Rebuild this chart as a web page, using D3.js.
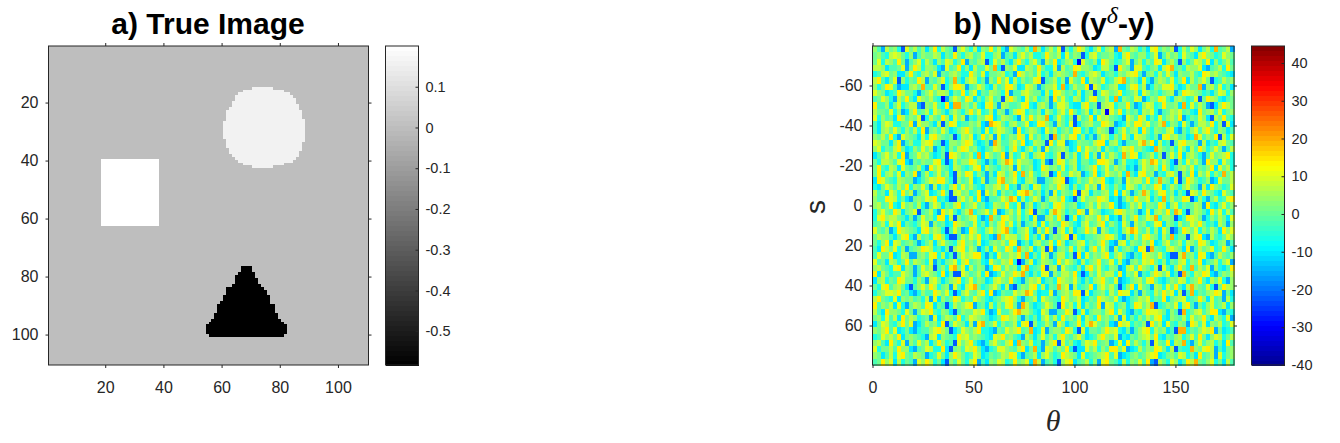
<!DOCTYPE html>
<meta charset="utf-8">
<style>
body { margin: 0; background: #fff; }
text { font-family: "Liberation Sans", Arial, sans-serif; fill: #262626; }
.title { font-size: 30px; font-weight: bold; fill: #000; text-anchor: middle; }
.ax text { font-size: 16px; }
.cb text { font-size: 14.5px; }
.ax path, .cb path { display: none; }
.ax line, .cb line { stroke: #262626; }
</style>
<body>
<script src="https://cdn.jsdelivr.net/npm/d3@7"></script>
<script>
var width = 1340, height = 443;

// a) true image: background value plus [row, first col, last col] runs
var imageSize = 110;
var backgroundValue = 0;
var squareValue = 0.2, circleValue = 0.16, triangleValue = -0.583;
var squareRuns = d3.range(40, 63).map(function(r) { return [r, 19, 38]; });
var circleRuns = [
  [15,71,77],[16,68,81],[17,66,83],[18,65,84],[19,65,85],[20,64,85],[21,64,86],
  [22,63,86],[23,62,87],[24,62,87],[25,62,87],[26,62,88],[27,61,88],[28,61,88],
  [29,61,88],[30,61,88],[31,61,88],[32,61,88],[33,62,88],[34,62,87],[35,62,87],
  [36,63,87],[37,63,86],[38,64,86],[39,65,85],[40,66,84],[41,68,81],[42,71,77]];
var triangleRuns = [
  [77,67,70],[78,67,70],[79,66,71],[80,65,71],[81,65,72],[82,65,72],[83,64,73],
  [84,62,74],[85,62,75],[86,62,75],[87,61,76],[88,61,76],[89,60,76],[90,59,78],
  [91,59,78],[92,59,78],[93,58,79],[94,58,79],[95,57,80],[96,56,81],[97,55,82],
  [98,55,82],[99,55,82],[100,56,81]];
var imageTicks = [20, 40, 60, 80, 100];
var grayTicks = [-0.5, -0.4, -0.3, -0.2, -0.1, 0, 0.1];
var grayDomain = [-0.583, 0.2];

// b) noise: one letter per cell. Typed by hand to match the overall colour mix,
// NOT measured cell by cell, and on a coarser grid than the original
var noiseLevels = {a:-30,b:-22,c:-15,d:-10,e:-6,f:-2,g:1,h:4,i:7,j:10,k:14,l:19,m:26};
var noiseRows = [
"hfcighebjgifhdgkeigfbhjgeidhgkfiecjhgfielhdgifjbgehkifdgjehiclgfihegdjkfhgibeifjhdgielfgic",
"ghfeijigehcfhggihdgfkgehifgjeehicfgdhjgieefkhgidjfhgbeijfgghedikgfhhegjcfighejgfdikhgefjhgi",
"gjeihfkgcfhjeigdhfjiegkcgfhibejgifdhkgehjfcigkdfhieajgfhdkigefhjcgiehfkjdgifbhegjifkdhegif",
"iihdffgjcgkiehhgdcjfgkehdiffjglebhgjddihfkgeejcifgkjhhgdeiifbkhgcjjfeghdiklfgeihhjdcfgiekg",
"efijghddgkfehigjcgfhigeekhfjdgghiefckighfjegdhihgflfegijhdfgehgijkfcgheifjgdhggifekjhigfed",
"ikfdgjbhegfkicgfhjeglfdhjiegchfkgjdiehfgjkbfgiehcjgfkdihgjefiklfhgdjecgihfjegkdifhjgbefigh",
"hegkjfcddhiglffjgbehkkicfgjhedifgkkhdejigcfhhjeldfiggkbjhefhiddgjkficehgjjkfdeigglchifjegd",
"jhgdefkiggecfhjgiihdgfkehjdgfihgekcffijhggdiekjhfgeidghbfjighkefgidjhfgeghicfkjihgefdgjieh",
"fgjhecigkfdjhgifeacgjhfkidgehjfgbikhfdjgiefhckgjfeihdgjkfgieldhgfjicehgkjfdhigefjbgkihedfg",
"kffhdgjegiicbhgjfekdllghfiedjkgcihffgjkedhigcfjjheddikfgbhijeggkfcdhjiefkgghdlejfigcbdhkig",
"iggfjehcdhkfgiejhfdgigehkgjefidhgcfikjegfhdigehjfkgegidhfiajgkehfgdihjecfgihjfgedkghifjegh",
"jehfgdkifhgjbeigfkhdjgicfehgjkdfihgecjfkgihldfjgehbifgkdjhigfecjhfkidgejfhigkcegfjhdbigkfe",
"fdhjieeggkcjhhfdibgkjeffhgidclkjgehifgjdekkhfcigejbdghiffkjhcdeigkkhjfgilehgdjfcfiigkehbjd",
"fdhigjgehfiekcghfjgdegikhfgdjehjigfckegihfdjgieghfkjegdfihgbegjfhidkgehgfijdcgehjfikgehgdf",
"hgifkecjhgfdiejkhgfgbeihjdfkgicjefhgkidjfhegblfigjkehdfcgjiehfkgdjihfegcjkhifgdeljfhgkbiej",
"jiggdhkcfheeijkgfbdhhgikjfdegcliffhjgkdeihgbkfjjcdehggfikkdhiecfggjlhkdiefbgjkhhgcidfeijgf",
"hjegfikgdehfjgicegdhfikjghedfgjigehkfdgiehcjfghigdekfjhgidhfegjikghfedligfhejgdifkhegjgcfi",
"dfhjgiekcfgjhifdegbkjhfgieldjhfgkciefjgdhikfegjbhfidgkehcjfigelhkjdfgiehbgjfkdhigecfjghike",
"geiihfjkdcgfhggjkebdifhhkjgecfdgilkfjhhgdeicbgkjfhidggefkkjhcfieedgjhlkfigdbhejgifckhhdjge",
"gkfeihdjgfgieckhjgfdihfegjkdigfehgicjfghdekighfjegidfghkegjfighdecfjhgiekgdfhigjegfhkdjgie",
"gkehifjdhgkcfiegjfhdbigkjehfcgdjifhkelgjfehibdkgfjhicegkdfjhgielfdjkghcfeijgbhfkdigjehflgi",
"dkjgfeihggcdfhjikkgebhfgjdeicffklghjedhigccfgijkbdehfgjhikedfgcjhiifkeglhgdjbfkigefhcdjggi",
"edgjhfigkehgjfcidgehkfjgifedhgijgkefchgdjiefhgkigdhefjgickgehfdjigehfgkjdfigehjgfcidkhgefj",
"ifgdjhekgicfhjdegkfbijghefkcjgidhfgejklifhdgcjehgfkbjidgfhiekdjgcfhliegjkfhdgebjifkhgedjgf",
"hffkjiegdcghgjikefdbbhjgiekdcffgjhlkdiegjhcfiigkedbfjghhkjidecfigkhhjdgelfifgkjbdhecgiefjk",
"hifgkedjghfiecgjhdgfikeghjfgdeihgkfejcgidfhgejkifghdegifjghkecdfigjehgfkidhjegfgihckedgjfh",
"ehjgfkidghjbfgieckhjfdgileghjfkcdgifjehkbgfdiljhegfkicjhgdefjkighfcejdhigkfljebgihfdkgjeif",
"ejkhiigfdgcfjghekkdibhfgijecdlgfkjhfiegdjcchifkgbejdfihgkgjdecifhkfgjilehhgbdfkjigcehfigdj",
"fgiejhkdgfegjichfgdekihgfjegdhfikgjehcfgidjehgfkigedhjfgikehfdjgcighefjkdhgeifgjhkgefdigch",
"jgfhcekihgfdjkgihebfjgcdkifehjgiklfdghjecifkgbhjeidfgkhjcigefdhjlkgfiehdjgbcfkigjehfigdkhj",
"gihhfdgjkecifgejkhdbbfigjhkefdclgjiifhkegdjcfhgikbjedffghikjgdcheifjkhgdifleggbhjkdcifegjh",
"gehkdjifghfcegidhjgfeikghfjdeghgifkjcegdhifgjekhdfgijegfhkgdcijehgfigkdehjfgieihfkjgdeghcf",
"fdkigjehcfghkjiefdgbhjkfigcehdjgfkielhgjdfibkcghfjeigdhkfjgcieghfdkjblgfeijhgdkcfighjefkgd",
"fjggkdeihccghfjkeidfbgjhikkecfdjggihkfldgejhcfiiegbkdjfhgikehjgdcfekihgjfdbbilghekjdcfigfh",
"jfgdihegkfihgejcfdghjeikfghedjgfihkeacgjdfihgekgjhfdieghkfgjeidcghfjikgehdgfijehgkdfgiehjc",
"higfejkdhgcfjgibfheklgjdifhgcekjfighdjlefgkbhicjgfehdikgjfehgcdijfkhgeibjfdhkgelfigjchedfk",
"kdigeffjhgcfijhgekdgbbjhfgiekcdfjghkilfdgejjchfiigkebdhfjgiiekdhgjcfehkigjdfblgeihkjdcfhgi",
"dhiegfkjggehfcijgdfhikegjfhgdeijhgkfecgihjdfgekihgjfdgehikgfjcdeghifjkgedfhgjieghkfdigjech",
"gejkfhigdbfhjgkieghcjfdiklgefhjgdicbfhgjkeidgflhjciefgkdhjgifbehkdjgfcihejgkfdilhgfjebgkih",
"eghjjikfgdcehffkigjebdhjgfikekcdgffjhilkgdeejcfhigkkbjdfgheifkjjdgchfeigkhjdibflegfhikjcgd",
"ikgfejdhghfgeicjdhfgkiegfjhgedfgijkhecfgidjhgfekighjdegfkihgjecdfgihjegfkdghijefgkhdjfgcie",
"kfhgidjecgihfkjdgfbeighjkcfgdiehfjkgclifdegjhfbkgiejdhfgkcjieghdfkjgilbefhgjdikfcgehjfgidh",
"ifdkhhgejgcgjikfehgdbfhggjikecdjffhkliigedjhccfgkibejdghhfikejgdcfehkjjigdhfblegijfhkkdcfe",
"ghejfidkgihefgcjdgihfkegjihgfdegkjhifcgegdhjfiekghfjdigekghficjdgehfigjkedhgfiejghkfdigejc",
"dgjifehkgjcdfighekbfjhgdicklfgjehfgidjkbhefigcjhdfgkeiljgfhdckijegfhbkgidjfehgckifjdhgiefj",
"hgikfjdegdceffhjkigbdfjhgikeedcgfjhikfgldejcghhfkiebjdggfhkijedgcfhjkeighdfbllegfhjikcgdef",
"efjhigkdghgfecijdhgfekijghgfedjikghfecigdgjfheikgfhjgdefikhgjcedgfhijgkedgfhiegjfkgdhjiegi",
"hifdkgejchfjgidgkhefbjgikfdcehjgfikdlhgjefcgikbjfhedgjikfghcejdkfigehbjgfkdihlecgjfhiegdkf",
"jeggifkhhdcfgjieekdbghfjikgdcefjjhgfikdglecjifhgkebddjgiehfkkgjcdeifhgkjgdibfeelhgjkicfdgh",
"hgdfiejkgfihgcefjgdhkigefjhdegfgihkjecfgidhjgefkihgdjefghikfjcdeghfgijkdeghfjiegdkfgicjegh",
"fgkhjdiegfcjhkiegdbhfjgeikcfdhgjiefkghjdlicfgebhjkdfgiehcjkgfdiehgjfkcbigejhdfkilgfhjegdif"
];
var noiseXTicks = [0, 50, 100, 150];
var noiseYTicks = [-60, -40, -20, 0, 20, 40, 60];
var jetTicks = [-40, -30, -20, -10, 0, 10, 20, 30, 40];
var jetDomain = [-40, 44.5];
var hyphenInt = function(d) { return String(d); };

var svg = d3.select("body").append("svg")
    .attr("width", width)
    .attr("height", height);

function addAxes(g, x, y, xTicks, yTicks) {
  var r = x.range(), t = y.range();
  g.append("g").attr("class", "ax").attr("transform", "translate(0," + t[1] + ")")
    .call(d3.axisBottom(x).tickValues(xTicks).tickSize(3).tickPadding(14).tickFormat(hyphenInt));
  g.append("g").attr("class", "ax").attr("transform", "translate(0," + t[0] + ")")
    .call(d3.axisTop(x).tickValues(xTicks).tickSize(3).tickFormat(""));
  g.append("g").attr("class", "ax").attr("transform", "translate(" + r[0] + ",0)")
    .call(d3.axisLeft(y).tickValues(yTicks).tickSize(3).tickPadding(7).tickFormat(hyphenInt));
  g.append("g").attr("class", "ax").attr("transform", "translate(" + r[1] + ",0)")
    .call(d3.axisRight(y).tickValues(yTicks).tickSize(3).tickFormat(""));
  g.append("rect").attr("x", r[0]).attr("y", t[0])
    .attr("width", r[1] - r[0]).attr("height", t[1] - t[0])
    .attr("fill", "none").attr("stroke", "#262626");
}

function addColorbar(x0, x1, domain, color, ticks, fmt, steps) {
  var cy = d3.scaleLinear().domain(domain).range([365, 46]);
  var g = svg.append("g").attr("class", "cb");
  var step = (domain[1] - domain[0]) / steps;
  g.selectAll("rect").data(d3.range(steps)).enter().append("rect")
    .attr("x", x0).attr("width", x1 - x0)
    .attr("y", function(i) { return cy(domain[0] + (i + 1) * step); })
    .attr("height", function(i) { return cy(domain[0] + i * step) - cy(domain[0] + (i + 1) * step) + 0.5; })
    .attr("shape-rendering", "crispEdges")
    .attr("fill", function(i) { return color(domain[0] + (i + 0.5) * step); });
  g.append("g").attr("transform", "translate(" + x1 + ",0)")
    .call(d3.axisRight(cy).tickValues(ticks).tickSize(-3).tickPadding(7).tickFormat(fmt));
  g.append("rect").attr("x", x0).attr("y", 46).attr("width", x1 - x0).attr("height", 319)
    .attr("fill", "none").attr("stroke", "#262626");
}

// panel a
var gray = d3.scaleLinear().domain(grayDomain).range(["#000", "#fff"]);
var ax = d3.scaleLinear().domain([0.5, imageSize + 0.5]).range([48.5, 368.5]);
var ay = d3.scaleLinear().domain([0.5, imageSize + 0.5]).range([46, 365]);
var pa = svg.append("g");
pa.append("rect").attr("x", ax(0.5)).attr("y", ay(0.5))
  .attr("width", ax(imageSize + 0.5) - ax(0.5)).attr("height", ay(imageSize + 0.5) - ay(0.5))
  .attr("fill", gray(backgroundValue));
[[squareRuns, squareValue], [circleRuns, circleValue], [triangleRuns, triangleValue]].forEach(function(shape) {
  pa.append("g").selectAll("rect").data(shape[0]).enter().append("rect")
    .attr("x", function(d) { return ax(d[1] - 0.5); })
    .attr("y", function(d) { return ay(d[0] - 0.5); })
    .attr("width", function(d) { return ax(d[2] + 0.5) - ax(d[1] - 0.5); })
    .attr("height", function(d) { return ay(d[0] + 0.5) - ay(d[0] - 0.5) + 0.5; })
    .attr("shape-rendering", "crispEdges")
    .attr("fill", gray(shape[1]));
});
addAxes(pa, ax, ay, imageTicks, imageTicks);
svg.append("text").attr("class", "title").attr("x", 208).attr("y", 34).text("a) True Image");
addColorbar(385.5, 418.5, grayDomain, gray, grayTicks, function(d) { return String(+d.toFixed(1)); }, 64);

// panel b
var jet = d3.scaleLinear()
  .domain([0, 0.125, 0.375, 0.625, 0.875, 1].map(function(t) { return jetDomain[0] + t * (jetDomain[1] - jetDomain[0]); }))
  .range(["#00008f", "#0000ff", "#00ffff", "#ffff00", "#ff0000", "#800000"]);
var bx = d3.scaleLinear().domain([0, 179]).range([872.5, 1234]);
var by = d3.scaleLinear().domain([-79.75, 79.75]).range([46, 365]);
var col = d3.scaleBand().domain(d3.range(90)).range(bx.range());
var row = d3.scaleBand().domain(d3.range(noiseRows.length)).range(by.range());
var pb = svg.append("g");
pb.append("rect").attr("x", 872.5).attr("y", 46).attr("width", 361.5).attr("height", 319).attr("fill", jet(2));
noiseRows.forEach(function(letters, j) {
  pb.append("g").selectAll("rect").data(letters.split("").slice(0, 90)).enter().append("rect")
    .attr("x", function(d, i) { return col(i); })
    .attr("y", row(j))
    .attr("width", col.bandwidth() + 0.5)
    .attr("height", row.bandwidth() + 0.5)
    .attr("shape-rendering", "crispEdges")
    .attr("fill", function(d) { return jet(noiseLevels[d]); });
});
addAxes(pb, bx, by, noiseXTicks, noiseYTicks);
var tb = svg.append("text").attr("class", "title").attr("x", 1054).attr("y", 34);
tb.append("tspan").text("b) Noise (y");
tb.append("tspan").attr("dy", -11).style("font-family", "'Liberation Serif'").style("font-style", "italic").style("font-weight", "normal").style("font-size", "24px").text("δ");
tb.append("tspan").attr("dy", 11).text("-y)");
svg.append("text").attr("transform", "translate(825,207) rotate(-90)")
  .attr("text-anchor", "middle").style("font-size", "28px").text("s");
svg.append("text").attr("x", 1053).attr("y", 431).attr("text-anchor", "middle")
  .style("font-family", "'Liberation Serif'").style("font-style", "italic").style("font-size", "30px").text("θ");
addColorbar(1251.5, 1284.5, jetDomain, jet, jetTicks, hyphenInt, 64);
</script>
